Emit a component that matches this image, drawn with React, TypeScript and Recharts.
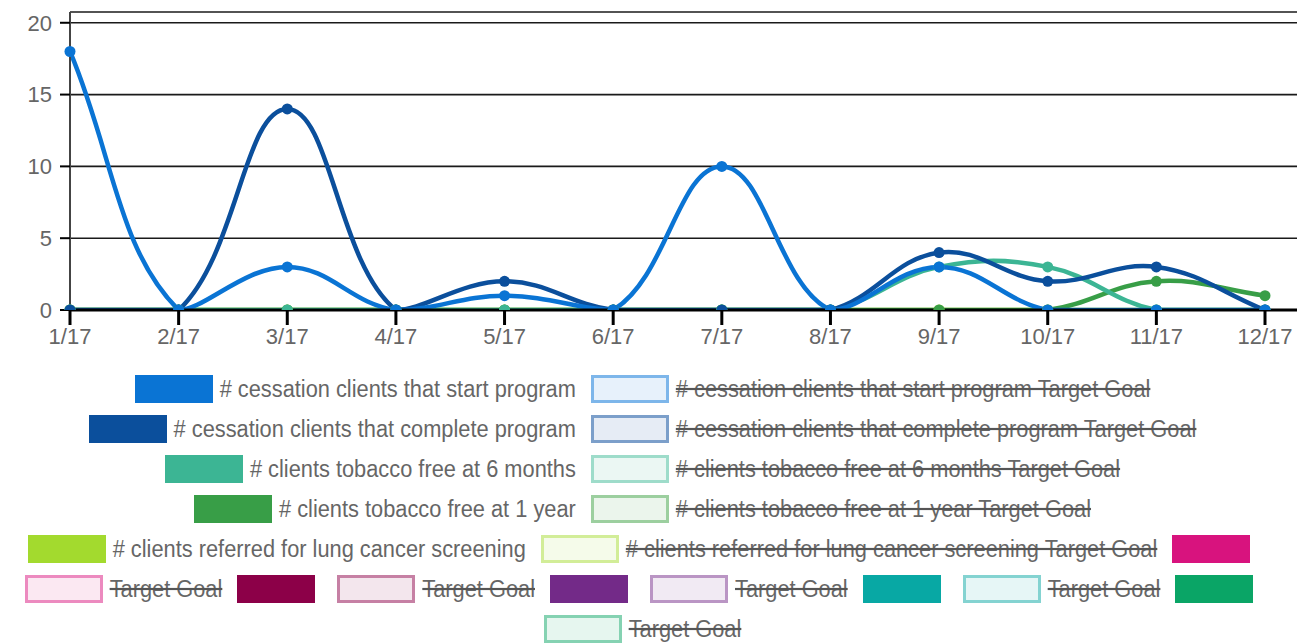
// Cessation program monthly counts - Recharts line chart with a Chart.js-like legend
import { LineChart, Line, XAxis, YAxis, CartesianGrid } from 'recharts';

const months = ['1/17', '2/17', '3/17', '4/17', '5/17', '6/17', '7/17', '8/17', '9/17', '10/17', '11/17', '12/17'];
const startProgram = [18, 0, 3, 0, 1, 0, 10, 0, 3, 0, 0, 0];
const completeProgram = [0, 0, 14, 0, 2, 0, 0, 0, 4, 2, 3, 0];
const free6Months = [0, 0, 0, 0, 0, 0, 0, 0, 3, 3, 0, 0];
const free1Year = [0, 0, 0, 0, 0, 0, 0, 0, 0, 0, 2, 1];
const lungScreening = [0, 0, 0, 0, 0, 0, 0, 0, 0, 0, 0, 0];
const yTicks = [0, 5, 10, 15, 20];

const legendLabels = [
  '# cessation clients that start program',
  '# cessation clients that start program Target Goal',
  '# cessation clients that complete program',
  '# cessation clients that complete program Target Goal',
  '# clients tobacco free at 6 months',
  '# clients tobacco free at 6 months Target Goal',
  '# clients tobacco free at 1 year',
  '# clients tobacco free at 1 year Target Goal',
  '# clients referred for lung cancer screening',
  '# clients referred for lung cancer screening Target Goal',
  '', 'Target Goal',
  '', 'Target Goal',
  '', 'Target Goal',
  '', 'Target Goal',
  '', 'Target Goal',
];
// target goal datasets are switched off in the legend
const legendHidden = legendLabels.map((l) => l.endsWith('Target Goal'));

// box styles, same order as legendLabels
const boxStyles = [
  { fill: '#0a74d4', stroke: '#0a74d4' }, { fill: '#e7f1fb', stroke: '#7db6ea' },
  { fill: '#0b4f9c', stroke: '#0b4f9c' }, { fill: '#e6ecf5', stroke: '#7c9fca' },
  { fill: '#3cb594', stroke: '#3cb594' }, { fill: '#ebf7f3', stroke: '#9edcca' },
  { fill: '#389e47', stroke: '#389e47' }, { fill: '#ebf5ec', stroke: '#9ccf9f' },
  { fill: '#a3da2e', stroke: '#a3da2e' }, { fill: '#f5fbea', stroke: '#d2ed98' },
  { fill: '#d8137e', stroke: '#d8137e' }, { fill: '#fbe8f2', stroke: '#ec8abf' },
  { fill: '#8c0048', stroke: '#8c0048' }, { fill: '#f3e6ed', stroke: '#c680a4' },
  { fill: '#732a88', stroke: '#732a88' }, { fill: '#f1eaf3', stroke: '#ba95c4' },
  { fill: '#08a8a4', stroke: '#08a8a4' }, { fill: '#e6f6f6', stroke: '#84d3d1' },
  { fill: '#0aa566', stroke: '#0aa566' }, { fill: '#e6f6ef', stroke: '#85d2b2' },
];

const series = [
  { key: 'start', values: startProgram, legend: 0 },
  { key: 'complete', values: completeProgram, legend: 2 },
  { key: 'free6', values: free6Months, legend: 4 },
  { key: 'free1', values: free1Year, legend: 6 },
  { key: 'lung', values: lungScreening, legend: 8 },
];

const data = months.map((month, i) => {
  const row: Record<string, string | number> = { month };
  series.forEach((s) => { row[s.key] = s.values[i]; });
  return row;
});

const W = 1305;
const CHART_H = 350;
const PLOT_TOP = 12;
const X_AXIS_H = 40;
const PLOT_BOTTOM = CHART_H - X_AXIS_H;
const Y_TOP = 20.75;
const FONT = '"Liberation Sans", Arial, sans-serif';

// Chart.js v2 style bezier (tension 0.4, control points capped to the plot area)
const chartJsCurve = (context: any) => {
  let pts: number[][] = [];
  const cap = (v: number) => Math.max(Math.min(v, PLOT_BOTTOM), PLOT_TOP);
  return {
    areaStart() {},
    areaEnd() {},
    lineStart() { pts = []; },
    point(x: number, y: number) { pts.push([+x, +y]); },
    lineEnd() {
      if (!pts.length) return;
      const cps = pts.map((p, i) => {
        const prev = pts[i - 1] ?? p;
        const next = pts[i + 1] ?? p;
        const d01 = Math.hypot(p[0] - prev[0], p[1] - prev[1]);
        const d12 = Math.hypot(next[0] - p[0], next[1] - p[1]);
        let s01 = d01 / (d01 + d12);
        let s12 = d12 / (d01 + d12);
        if (!isFinite(s01)) s01 = 0;
        if (!isFinite(s12)) s12 = 0;
        const fa = 0.4 * s01;
        const fb = 0.4 * s12;
        return {
          c1: [p[0] - fa * (next[0] - prev[0]), cap(p[1] - fa * (next[1] - prev[1]))],
          c2: [p[0] + fb * (next[0] - prev[0]), cap(p[1] + fb * (next[1] - prev[1]))],
        };
      });
      context.moveTo(pts[0][0], pts[0][1]);
      for (let i = 1; i < pts.length; i++) {
        context.bezierCurveTo(cps[i - 1].c2[0], cps[i - 1].c2[1], cps[i].c1[0], cps[i].c1[1], pts[i][0], pts[i][1]);
      }
    },
  };
};

function ChartLegend() {
  return (
    <div
      style={{
        position: 'absolute', left: 0, top: 375, width: 1285,
        display: 'flex', flexWrap: 'wrap', justifyContent: 'center',
        columnGap: 15, rowGap: 12, fontFamily: FONT,
      }}
    >
      {legendLabels.map((label, i) => (
        <div key={i} style={{ display: 'flex', alignItems: 'center', height: 28 }}>
          <div
            style={{
              width: 78, height: 28, boxSizing: 'border-box',
              background: boxStyles[i].fill,
              border: `${legendHidden[i] ? 3 : 1}px solid ${boxStyles[i].stroke}`,
            }}
          />
          <span
            style={{
              display: 'inline-block', transform: 'scaleY(1.08)',
              marginLeft: 7, fontSize: 21.8, lineHeight: '28px', color: '#666',
              whiteSpace: 'nowrap',
              textDecoration: legendHidden[i] ? 'line-through' : 'none',
              textDecorationThickness: 2,
              textDecorationColor: '#555',
            }}
          >
            {label}
          </span>
        </div>
      ))}
    </div>
  );
}

export default function App() {
  return (
    <div style={{ position: 'absolute', left: 0, top: 0, width: W, height: 643, background: '#fff' }}>
      <LineChart width={W} height={CHART_H} data={data} margin={{ top: PLOT_TOP, right: 8, left: 0, bottom: 0 }}>
        <CartesianGrid vertical={false} stroke="#1a1a1a" strokeWidth={1.6} />
        <XAxis
          dataKey="month"
          interval={0}
          height={X_AXIS_H}
          padding={{ left: 0, right: 32 }}
          axisLine={{ stroke: '#000', strokeWidth: 3 }}
          tickLine={{ stroke: '#000', strokeWidth: 3 }}
          tickSize={15}
          tickMargin={3}
          tick={{ fontSize: 22, fill: '#666', fontFamily: FONT }}
        />
        <YAxis
          width={70}
          domain={[0, Y_TOP]}
          ticks={yTicks}
          allowDataOverflow
          axisLine={{ stroke: '#444', strokeWidth: 2 }}
          tickLine={{ stroke: '#000', strokeWidth: 2 }}
          tickSize={10}
          tickMargin={8}
          tick={{ fontSize: 22, fill: '#666', fontFamily: FONT }}
        />
        {[...series].reverse().map((s) => {
          const color = boxStyles[s.legend].stroke;
          return (
            <Line
              key={s.key}
              dataKey={s.key}
              name={legendLabels[s.legend]}
              type={chartJsCurve as any}
              stroke={color}
              strokeWidth={4.5}
              dot={{ r: 5.5, fill: color, stroke: color, strokeWidth: 0 }}
              activeDot={false}
              isAnimationActive={false}
            />
          );
        })}
      </LineChart>
      <ChartLegend />
    </div>
  );
}
